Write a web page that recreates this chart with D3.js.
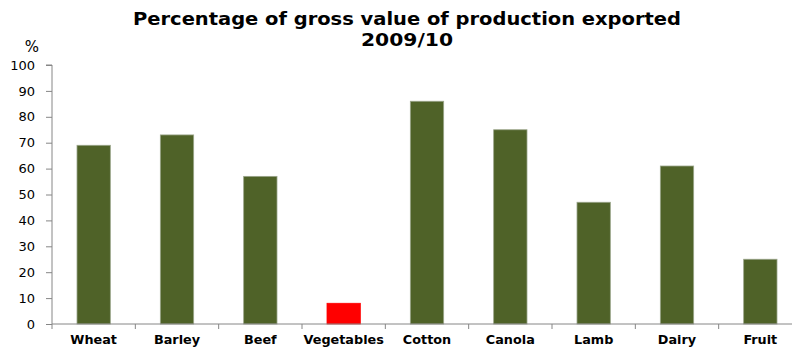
<!DOCTYPE html>
<html>
<head>
<meta charset="utf-8">
<script src="https://cdn.jsdelivr.net/npm/d3@7/dist/d3.min.js"></script>
<style>
  html, body { margin: 0; padding: 0; background: #fff; }
  svg { display: block; }
  text { font-family: "DejaVu Sans", Verdana, sans-serif; }
</style>
</head>
<body>
<svg id="chart" width="792" height="347"></svg>
<script>
// Share of gross value of production exported, 2009/10
const categories = ["Wheat", "Barley", "Beef", "Vegetables", "Cotton", "Canola", "Lamb", "Dairy", "Fruit"];
const values = [69, 73, 57, 8, 86, 75, 47, 61, 25];
const highlighted = ["Vegetables"];
const yTicks = [0, 10, 20, 30, 40, 50, 60, 70, 80, 90, 100];

const svg = d3.select("#chart");
const plot = { left: 52, right: 802, top: 65, bottom: 324 };

const axisColor = "#868686";

// Category bands (tick marks sit on band boundaries)
const xBand = d3.scaleBand()
  .domain(categories)
  .range([plot.left, plot.right])
  .paddingInner(0.6)
  .paddingOuter(0.3);

const xEdges = d3.scaleBand()
  .domain(categories)
  .range([plot.left, plot.right])
  .padding(0);

const y = d3.scaleLinear().domain([0, 100]).range([plot.bottom, plot.top]);

// Title
const title = svg.append("g").attr("font-weight", "bold").attr("fill", "#000").attr("text-anchor", "middle");
title.append("text").attr("x", 407).attr("y", 25).attr("font-size", 18.5)
  .attr("textLength", 548).attr("lengthAdjust", "spacingAndGlyphs")
  .text("Percentage of gross value of production exported");
title.append("text").attr("x", 407).attr("y", 46).attr("font-size", 18.5)
  .attr("textLength", 92).attr("lengthAdjust", "spacingAndGlyphs")
  .text("2009/10");

// Unit label
svg.append("text").attr("x", 32).attr("y", 52).attr("font-size", 15).attr("text-anchor", "middle").text("%");

// Bars
svg.append("g").selectAll("rect")
  .data(categories.map((c, i) => ({ c, v: values[i] })))
  .join("rect")
  .attr("x", d => xBand(d.c))
  .attr("width", xBand.bandwidth())
  .attr("y", d => y(d.v))
  .attr("height", d => y(0) - y(d.v))
  .attr("fill", d => highlighted.includes(d.c) ? "#ff0000" : "#4f6228")
  .attr("stroke", d => highlighted.includes(d.c) ? "#ff0000" : "#9aa58a")
  .attr("stroke-width", 0.8);

// Y axis
const yAxis = svg.append("g")
  .attr("transform", `translate(${plot.left},0)`)
  .call(d3.axisLeft(y).tickValues(yTicks).tickSize(6).tickPadding(11));
yAxis.select(".domain").attr("stroke", axisColor).attr("d", `M-6,${y(100)}H0V${y(0)}`);
yAxis.selectAll(".tick line").attr("stroke", axisColor);
yAxis.selectAll(".tick text").attr("font-size", 13).attr("fill", "#000").attr("font-family", "DejaVu Sans, Verdana, sans-serif");

// X axis: boundary ticks with centred category labels
const xg = svg.append("g").attr("transform", `translate(0,${plot.bottom})`);
xg.append("line")
  .attr("x1", plot.left).attr("x2", plot.right)
  .attr("stroke", axisColor);
xg.selectAll("line.tick")
  .data(categories.concat(["_end"]))
  .join("line")
  .attr("class", "tick")
  .attr("x1", (d, i) => plot.left + i * xEdges.step())
  .attr("x2", (d, i) => plot.left + i * xEdges.step())
  .attr("y1", 0).attr("y2", 5)
  .attr("stroke", axisColor);
xg.selectAll("text")
  .data(categories)
  .join("text")
  .attr("x", d => xEdges(d) + xEdges.bandwidth() / 2)
  .attr("y", 20)
  .attr("text-anchor", "middle")
  .attr("font-size", 12.8)
  .attr("font-weight", "bold")
  .attr("fill", "#000")
  .text(d => d);
</script>
</body>
</html>
